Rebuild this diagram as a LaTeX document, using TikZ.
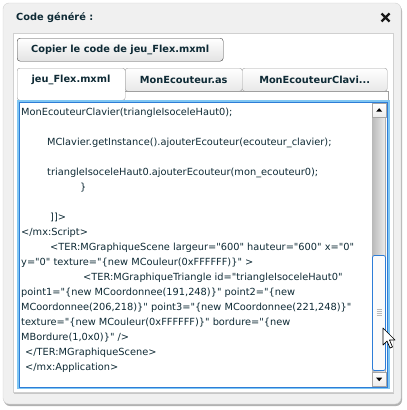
\documentclass[tikz,border=0pt]{standalone}
\usepackage{fontspec}
\setmainfont{DejaVu Sans}[Ligatures=TeXOff]
\usetikzlibrary{positioning,calc}
\definecolor{ink}{RGB}{14,42,53}
\definecolor{panel}{RGB}{240,240,240}
\definecolor{rim}{RGB}{208,208,208}
\definecolor{focus}{RGB}{128,198,242}
\definecolor{focusdark}{RGB}{45,125,215}

\begin{document}
\begin{tikzpicture}[x=1pt,y=-1pt,
    txt/.style={font=\fontsize{9.8}{12}\selectfont},
    code/.style={txt,anchor=base west,inner sep=0pt,text=ink},
    tabbox/.style={txt,draw=gray!75,rounded corners=2.5pt,top color=white,bottom color=gray!18,
      minimum height=23pt,inner sep=0pt,anchor=north west,text=ink,font=\fontsize{9.8}{12}\selectfont\bfseries},
    arrowbtn/.style={draw=gray!70,top color=white,bottom color=gray!15,minimum width=14pt,minimum height=14pt,inner sep=0pt,anchor=north west}]
  \useasboundingbox (0,0) rectangle (407,410);
  % dialog
  \fill[black!30,rounded corners=6pt] (4,5) rectangle (402,406);
  \draw[rim,fill=panel,rounded corners=6pt] (3,3) rectangle (401,404);
  \node[txt,font=\fontsize{9.8}{12}\selectfont\bfseries,text=ink,anchor=base west,inner sep=0pt] (title) at (16,20.5) {Code généré :};
  \draw[line width=2.3pt,black!90] (381.5,13.5) -- (389.5,21.5) (389.5,13.5) -- (381.5,21.5);
  \fill[black!22] (14,35) rectangle (394,394);
  \draw[rim,fill=white] (13,33) rectangle (393,392);
  % button and tabs
  \node[tabbox,draw=gray!50!black,rounded corners=3pt,minimum width=206pt,bottom color=gray!22] (copy) at (17,38) {Copier le code de jeu\_Flex.mxml};
  \node[tabbox,minimum width=117pt] (tabas) at (125,68) {MonEcouteur.as};
  \node[tabbox,minimum width=145pt] (tabclav) at (242,68) {MonEcouteurClavi...};
  \node[tabbox,minimum width=108pt,minimum height=32pt,top color=white,bottom color=white] (tabmx) at (17,68) {};
  \node[txt,font=\fontsize{9.8}{12}\selectfont\bfseries,text=ink] (tabmxlabel) at (71,80) {jeu\_Flex.mxml};
  \draw[gray!75] (125,91) -- (388,91) -- (388,101);
  % text area
  \draw[focus,line width=2.4pt,fill=white] (18.5,101.5) rectangle (388.5,388);
  \draw[focusdark,line width=0.6pt] (19.5,102.5) rectangle (387.5,387);
  \node[code] (l1) at (21,115.5) {MonEcouteurClavier(triangleIsoceleHaut0);};
  \node[code] (l2) at (47,145.5) {MClavier.getInstance().ajouterEcouteur(ecouteur\_clavier);};
  \node[code] (l3) at (47,175.5) {triangleIsoceleHaut0.ajouterEcouteur(mon\_ecouteur0);};
  \node[code] (l4) at (80,190.5) {\}};
  \node[code] (l5) at (50,220.5) {]]>};
  \node[code] (l6) at (21,235.5) {</mx:Script>};
  \node[code] (l7) at (50,250.5) {<TER:MGraphiqueScene largeur="600" hauteur="600" x="0"};
  \node[code] (l8) at (21,265.5) {y="0" texture="\{new MCouleur(0xFFFFFF)\}" >};
  \node[code] (l9) at (83,280.5) {<TER:MGraphiqueTriangle id="triangleIsoceleHaut0"};
  \node[code] (l10) at (21,295.5) {point1="\{new MCoordonnee(191,248)\}" point2="\{new};
  \node[code] (l11) at (21,310.5) {MCoordonnee(206,218)\}" point3="\{new MCoordonnee(221,248)\}"};
  \node[code] (l12) at (21,325.5) {texture="\{new MCouleur(0xFFFFFF)\}" bordure="\{new};
  \node[code] (l13) at (21,340.5) {MBordure(1,0x0)\}" />};
  \node[code] (l14) at (25,355.5) {</TER:MGraphiqueScene>};
  \node[code] (l15) at (25,370.5) {</mx:Application>};
  % scroll bar
  \shade[left color=gray!55,right color=gray!12] (372,117) rectangle (386,372);
  \draw[gray!60] (385.5,117) -- (385.5,372);
  \draw[focusdark,fill=gray!3,rounded corners=2pt,line width=0.8pt] (372.5,255.5) rectangle (385.5,370.5);
  \foreach \g in {309,311,313,315}
    \draw[gray!55] (376.5,\g) -- (381.5,\g);
  \node[arrowbtn] (up) at (372,103) {};
  \node[arrowbtn] (down) at (372,372) {};
  \fill[black] ($(up.center)+(-3,1.5)$) -- ++(6,0) -- ++(-3,-3.5) -- cycle;
  \fill[black] ($(down.center)+(-3,-1.5)$) -- ++(6,0) -- ++(-3,3.5) -- cycle;
  % cursor
  \draw[black,fill=white,line join=round,line width=0.7pt] (383,328) -- ++(0,17) -- ++(4,-4) -- ++(3,7) -- ++(2.5,-1) -- ++(-3,-7) -- ++(5.5,0) -- cycle;
\end{tikzpicture}
\end{document}
